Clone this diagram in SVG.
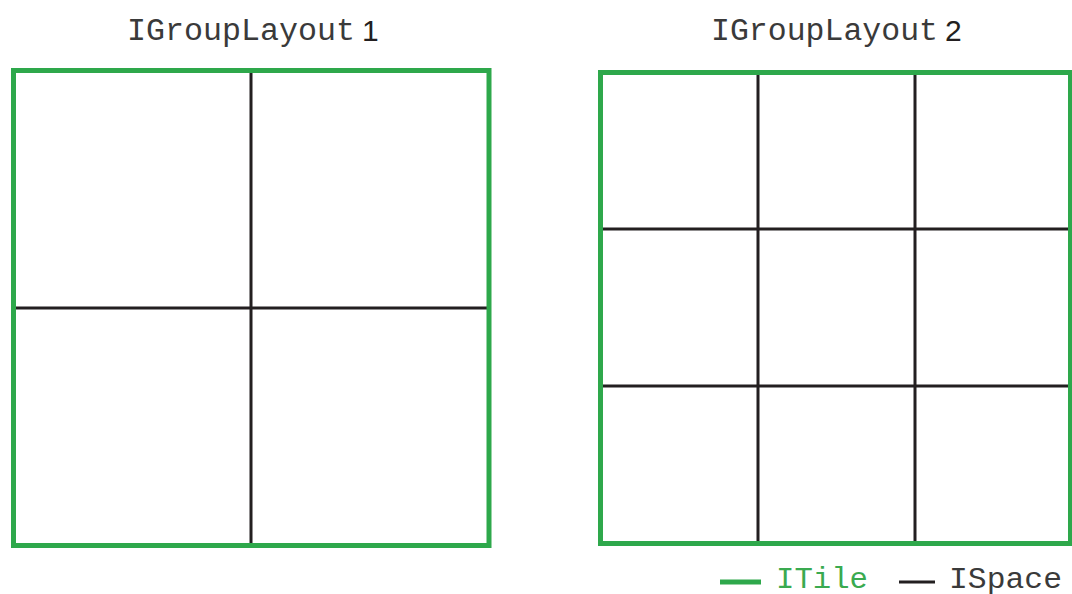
<svg xmlns="http://www.w3.org/2000/svg" width="1072" height="594" viewBox="0 0 1072 594">
<style>
.tile{fill:none;stroke:#2ea84b;stroke-width:5}
.space{stroke:#231f20;stroke-width:3;fill:none}
.mono{font-family:"Liberation Mono","Courier New",monospace;font-size:31px;fill:#3a3a3a}
.num{font-family:"Liberation Sans",Arial,sans-serif;font-size:30px;fill:#231f20}
</style>
<rect width="1072" height="594" fill="#ffffff"/>
<g id="layout1">
<text class="mono" x="127" y="40" textLength="228" lengthAdjust="spacingAndGlyphs">IGroupLayout</text>
<text class="num" x="362" y="40.5">1</text>
<g id="layout1-spaces">
<line class="space" x1="251" y1="73" x2="251" y2="543"/>
<line class="space" x1="16" y1="308" x2="487" y2="308"/>
</g>
<rect id="layout1-tile" class="tile" x="13.5" y="70.5" width="475.5" height="475"/>
</g>
<g id="layout2">
<text class="mono" x="711" y="40" textLength="227" lengthAdjust="spacingAndGlyphs">IGroupLayout</text>
<text class="num" x="945" y="40.5">2</text>
<g id="layout2-spaces">
<line class="space" x1="758" y1="75" x2="758" y2="541"/>
<line class="space" x1="915" y1="75" x2="915" y2="541"/>
<line class="space" x1="603" y1="229" x2="1068" y2="229"/>
<line class="space" x1="603" y1="386" x2="1068" y2="386"/>
</g>
<rect id="layout2-tile" class="tile" x="600.5" y="72.5" width="470" height="471"/>
</g>
<g id="legend">
<line x1="720" y1="582" x2="761" y2="582" stroke="#2ea84b" stroke-width="5"/>
<text x="776" y="588" font-family="'Liberation Mono','Courier New',monospace" font-size="29" fill="#3aaa50" textLength="92" lengthAdjust="spacingAndGlyphs">ITile</text>
<line x1="899" y1="582" x2="935" y2="582" stroke="#231f20" stroke-width="3"/>
<text x="949" y="588" class="mono" style="font-size:29px" textLength="113" lengthAdjust="spacingAndGlyphs">ISpace</text>
</g>
</svg>
